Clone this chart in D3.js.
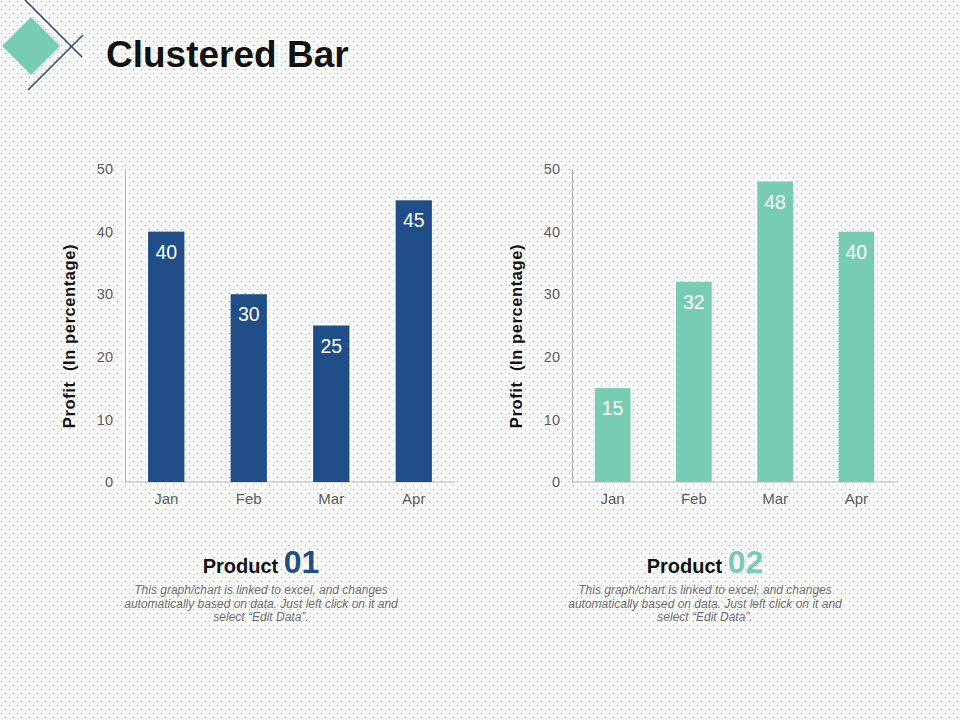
<!DOCTYPE html>
<html>
<head>
<meta charset="utf-8">
<script src="https://cdn.jsdelivr.net/npm/d3@7"></script>
<style>
  html, body { margin: 0; padding: 0; background: #fff; }
  svg { display: block; font-family: Arial, "Liberation Sans", sans-serif; }
</style>
</head>
<body>
<svg id="chart" width="960" height="720"></svg>
<script>
// --- Data ---
const months = ["Jan", "Feb", "Mar", "Apr"];
const product01 = [40, 30, 25, 45];
const product02 = [15, 32, 48, 40];
const yTicks = [0, 10, 20, 30, 40, 50];
const description = [
    "This graph/chart is linked to excel, and changes",
    "automatically based on data. Just left click on it and",
    "select \u201cEdit Data\u201d."
];

const svg = d3.select("#chart");

// dotted background
const defs = svg.append("defs");
const pat = defs.append("pattern")
    .attr("id", "dots")
    .attr("width", 8).attr("height", 8)
    .attr("patternUnits", "userSpaceOnUse");
pat.append("rect").attr("x", 1).attr("y", 1).attr("width", 1).attr("height", 1).attr("fill", "#a4a4a4");
pat.append("rect").attr("x", 5).attr("y", 5).attr("width", 1).attr("height", 1).attr("fill", "#a4a4a4");
pat.append("rect").attr("x", 5).attr("y", 1).attr("width", 1).attr("height", 1).attr("fill", "#eceeee");
pat.append("rect").attr("x", 1).attr("y", 5).attr("width", 1).attr("height", 1).attr("fill", "#eceeee");
svg.append("rect").attr("width", 960).attr("height", 720).attr("fill", "url(#dots)");

// --- logo + title ---
const logo = svg.append("g");
logo.append("path")
    .attr("d", "M31,17 L60,46 L31,75 L2,46 Z")
    .attr("fill", "#79ccb4");
logo.append("line")
    .attr("x1", 25).attr("y1", 0).attr("x2", 82).attr("y2", 57)
    .attr("stroke", "#2c4a78").attr("stroke-width", 1.6);
logo.append("line")
    .attr("x1", 28).attr("y1", 90).attr("x2", 83).attr("y2", 35)
    .attr("stroke", "#2c4a78").attr("stroke-width", 1.6);

svg.append("text")
    .attr("x", 106).attr("y", 67)
    .style("font-size", "37px")
    .style("font-weight", "bold")
    .attr("fill", "#111")
    .text("Clustered Bar");

// --- one panel per product ---
const drawPanel = (values, opts) => {
    const x = d3.scaleBand()
        .domain(months)
        .range([opts.left, opts.right])
        .paddingInner(0.56)
        .paddingOuter(0.28);

    const y = d3.scaleLinear()
        .domain([0, 50])
        .range([482, 169]);

    const g = svg.append("g");

    // y axis
    const yAxis = g.append("g")
        .attr("transform", `translate(${opts.left},0)`)
        .call(d3.axisLeft(y).tickValues(yTicks).tickSize(0).tickPadding(12));
    yAxis.select(".domain").attr("stroke", "#b0b0b0");
    yAxis.selectAll("text")
        .attr("fill", "#595959")
        .style("font-size", "14.5px")
        .style("font-family", "Arial, 'Liberation Sans', sans-serif");

    // x axis
    const xAxis = g.append("g")
        .attr("transform", "translate(0,482)")
        .call(d3.axisBottom(x).tickSize(0).tickPadding(11));
    xAxis.select(".domain").attr("stroke", "#b0b0b0").attr("d", `M${opts.left},0H${opts.right}`);
    xAxis.selectAll("text")
        .attr("fill", "#595959")
        .style("font-size", "15px")
        .style("font-family", "Arial, 'Liberation Sans', sans-serif");

    // y title
    g.append("text")
        .attr("transform", `translate(${opts.left - 50},336) rotate(-90)`)
        .attr("text-anchor", "middle")
        .style("font-size", "16.5px")
        .style("font-weight", "bold")
        .style("letter-spacing", "0.6px")
        .attr("fill", "#111")
        .attr("xml:space", "preserve")
        .text("Profit  (In percentage)");

    // bars
    g.selectAll(".bar")
        .data(values)
        .enter()
        .append("rect")
        .attr("class", "bar")
        .attr("x", (d, i) => x(months[i]))
        .attr("y", d => y(d))
        .attr("width", x.bandwidth())
        .attr("height", d => y(0) - y(d))
        .attr("fill", opts.color);

    // value labels
    g.selectAll(".val")
        .data(values)
        .enter()
        .append("text")
        .attr("class", "val")
        .attr("x", (d, i) => x(months[i]) + x.bandwidth() / 2)
        .attr("y", d => y(d) + 27)
        .attr("text-anchor", "middle")
        .style("font-size", "19.5px")
        .attr("fill", "#fff")
        .text(d => d);

    // product heading
    const head = g.append("text")
        .attr("x", opts.center)
        .attr("y", 573)
        .attr("text-anchor", "middle");
    head.append("tspan")
        .style("font-size", "20px")
        .style("font-weight", "bold")
        .attr("fill", "#111")
        .text("Product ");
    head.append("tspan")
        .style("font-size", "32px")
        .style("font-weight", "bold")
        .attr("fill", opts.color)
        .text(opts.number);

    // description
    g.selectAll(".desc")
        .data(description)
        .enter()
        .append("text")
        .attr("class", "desc")
        .attr("x", opts.center)
        .attr("y", (d, i) => 594 + i * 13.5)
        .attr("text-anchor", "middle")
        .style("font-size", "12px")
        .style("font-style", "italic")
        .attr("fill", "#6b6b6b")
        .text(d => d);
};

drawPanel(product01, { left: 125, right: 455, center: 261, color: "#1f4e89", number: "01" });
drawPanel(product02, { left: 572, right: 897, center: 705, color: "#79ccb4", number: "02" });
</script>
</body>
</html>
